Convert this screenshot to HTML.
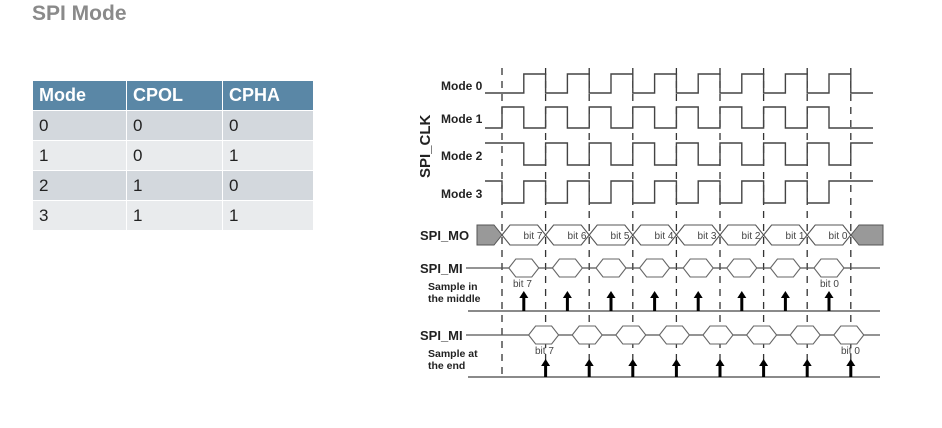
<!DOCTYPE html>
<html><head><meta charset="utf-8"><style>
body{margin:0;background:#fff;width:942px;height:428px;overflow:hidden;position:relative;font-family:"Liberation Sans",sans-serif}
.t{position:absolute;left:32px;top:2px;font-size:21px;font-weight:bold;color:#8a8a8a}
table{position:absolute;left:32px;top:80px;border-collapse:collapse;width:282px;font-size:17px}
td{height:29px;padding:0 0 0 6px;border:1px solid #fff;color:#222}
th{height:29px;text-align:left;padding:0 0 0 6px;border:1px solid #fff;background:#5a87a6;color:#fff;font-size:18px}
tr.a td{background:#d3d8dd} tr.b td{background:#e9ebed}
svg{position:absolute;left:0;top:0}
</style></head><body>
<div class="t">SPI Mode</div>
<table>
<tr><th style="width:87px">Mode</th><th style="width:89px">CPOL</th><th>CPHA</th></tr>
<tr class="a"><td>0</td><td>0</td><td>0</td></tr>
<tr class="b"><td>1</td><td>0</td><td>1</td></tr>
<tr class="a"><td>2</td><td>1</td><td>0</td></tr>
<tr class="b"><td>3</td><td>1</td><td>1</td></tr>
</table>
<svg id="s" width="942" height="428" font-family="Liberation Sans, sans-serif">
<g font-size="12" font-weight="bold" fill="#222">
<text x="441" y="90">Mode 0</text>
<text x="441" y="123">Mode 1</text>
<text x="441" y="160">Mode 2</text>
<text x="441" y="198">Mode 3</text>
<text x="420" y="240" font-size="13">SPI_MO</text>
<text x="420" y="273" font-size="13">SPI_MI</text>
<text x="420" y="340" font-size="13">SPI_MI</text>
<text x="428" y="290" font-size="10.5">Sample in</text>
<text x="428" y="302" font-size="10.5">the middle</text>
<text x="428" y="357" font-size="10.5">Sample at</text>
<text x="428" y="369" font-size="10.5">the end</text>
</g>
<text transform="translate(430,178) rotate(-90)" font-size="15" font-weight="bold" fill="#222">SPI_CLK</text>
<g font-size="10" fill="#444">
<text x="513" y="287">bit 7</text><text x="820" y="287">bit 0</text>
<text x="535" y="354">bit 7</text><text x="841" y="354">bit 0</text>
</g>
<g id="shapes"></g>
<g font-size="10" fill="#444" text-anchor="middle">
<text x="533" y="239">bit 7</text>
<text x="577" y="239">bit 6</text>
<text x="620" y="239">bit 5</text>
<text x="664" y="239">bit 4</text>
<text x="707" y="239">bit 3</text>
<text x="751" y="239">bit 2</text>
<text x="795" y="239">bit 1</text>
<text x="838" y="239">bit 0</text>
</g>
</svg>
<script>
var s=document.getElementById('shapes'),NS='http://www.w3.org/2000/svg';
function el(t,a){var e=document.createElementNS(NS,t);for(var k in a)e.setAttribute(k,a[k]);s.appendChild(e);return e;}
var P=43.6,D=[];for(var k=0;k<9;k++)D.push(502+P*k);
D.forEach(function(x){el('line',{x1:x,y1:68,x2:x,y2:380,stroke:'#333','stroke-width':1.3,'stroke-dasharray':'7,6'});});
function clk(hi,lo,startHigh,pts){
 var y=startHigh?hi:lo,d='M485,'+y;
 pts.forEach(function(x){d+=' H'+x;y=(y==hi?lo:hi);d+=' V'+y;});
 d+=' H873';el('path',{d:d,fill:'none',stroke:'#444','stroke-width':1.4});}
var e0=[],e1=[];
for(var k=0;k<8;k++){e0.push(D[k]+P/2,D[k+1]);e1.push(D[k],D[k]+P/2);}
clk(74,93,false,e0);clk(107,128,false,e1);clk(143,165,true,e0);clk(181,203,true,e1);
el('path',{d:'M477,225 H494 L502,235 L494,245 H477Z',fill:'#999',stroke:'#555'});
el('path',{d:'M883,225 H859 L851,235 L859,245 H883Z',fill:'#999',stroke:'#555'});
for(var k=0;k<8;k++){var a=D[k],b=D[k+1];
 el('path',{d:'M'+a+',235 L'+(a+8)+',225 H'+(b-8)+' L'+b+',235 L'+(b-8)+',245 H'+(a+8)+'Z',fill:'#fff',stroke:'#555','stroke-width':1.1});}
function mi(y,cs){el('line',{x1:466,y1:y,x2:880,y2:y,stroke:'#555','stroke-width':1.2});
 cs.forEach(function(c){el('path',{d:'M'+(c-15)+','+y+' L'+(c-8)+','+(y-9)+' H'+(c+8)+' L'+(c+15)+','+y+' L'+(c+8)+','+(y+9)+' H'+(c-8)+'Z',fill:'#fff',stroke:'#666','stroke-width':1.1});});}
var mids=[],ends=[];for(var k=0;k<8;k++){mids.push(D[k]+P/2);ends.push(D[k+1]);}
mi(268,mids);mi(335,ends.map(function(x){return x-2;}));
function arr(xs,y0,y1){xs.forEach(function(x){el('line',{x1:x,y1:y1,x2:x,y2:y0+6,stroke:'#000','stroke-width':3});el('path',{d:'M'+(x-4.5)+','+(y0+7)+' L'+x+','+y0+' L'+(x+4.5)+','+(y0+7)+'Z',fill:'#000'});});}
el('line',{x1:468,y1:311,x2:880,y2:311,stroke:'#444','stroke-width':1.2});
el('line',{x1:468,y1:377,x2:880,y2:377,stroke:'#444','stroke-width':1.2});
arr(mids,291,311);arr(ends,359,377);
</script>
</body></html>
